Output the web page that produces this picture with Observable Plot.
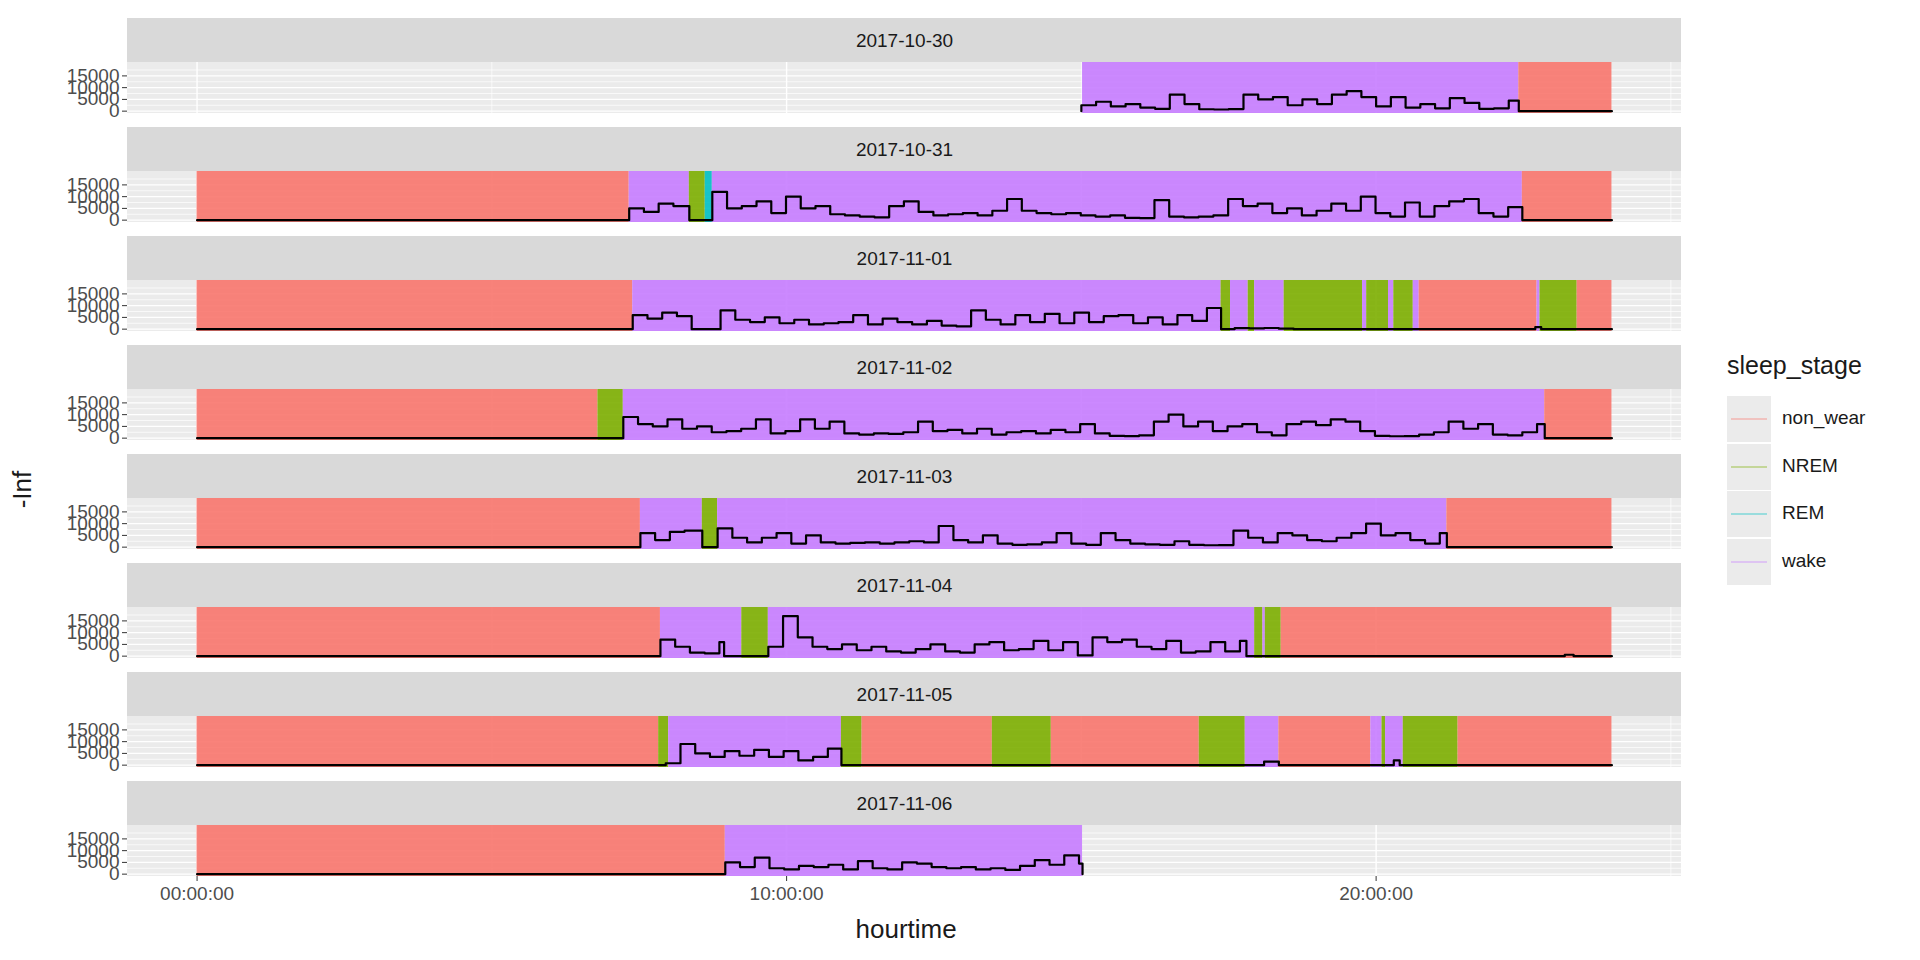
<!DOCTYPE html>
<html><head><meta charset="utf-8">
<script src="https://cdn.jsdelivr.net/npm/d3@7"></script>
<script src="https://cdn.jsdelivr.net/npm/@observablehq/plot@0.6"></script>
<style>
body{margin:0;background:#fff;font-family:"Liberation Sans",Arial,sans-serif;}
#wrap{position:relative;width:1920px;height:960px;}
.lab{position:absolute;color:#1A1A1A;white-space:nowrap;}
</style></head><body><div id="wrap"></div>
<script>
const days = ["2017-10-30","2017-10-31","2017-11-01","2017-11-02","2017-11-03","2017-11-04","2017-11-05","2017-11-06"];
const stageNames = ["non_wear","NREM","REM","wake"];
const stageColors = ["#F8766D","#7CAE00","#00BFC4","#C77CFF"];
const xTicks = [0,10,20];
const xTickLabels = ["00:00:00","10:00:00","20:00:00"];
const yTicks = [0,5000,10000,15000];

// stage intervals per day: [start hour, end hour, stage]
const stages1030 = [[15.02,22.42,"wake"],[22.42,24,"non_wear"]];
const stages1031 = [[0,7.33,"non_wear"],[7.33,8.35,"wake"],[8.35,8.62,"NREM"],[8.62,8.74,"REM"],[8.74,22.48,"wake"],[22.48,24,"non_wear"]];
const stages1101 = [[0,7.39,"non_wear"],[7.39,17.37,"wake"],[17.37,17.53,"NREM"],[17.53,17.83,"wake"],[17.83,17.94,"NREM"],[17.94,18.44,"wake"],[18.44,19.77,"NREM"],[19.77,19.84,"wake"],[19.84,20.21,"NREM"],[20.21,20.3,"wake"],[20.3,20.63,"NREM"],[20.63,20.73,"wake"],[20.73,22.73,"non_wear"],[22.73,22.78,"wake"],[22.78,23.41,"NREM"],[23.41,24,"non_wear"]];
const stages1102 = [[0,6.8,"non_wear"],[6.8,7.23,"NREM"],[7.23,22.86,"wake"],[22.86,24,"non_wear"]];
const stages1103 = [[0,7.52,"non_wear"],[7.52,8.57,"wake"],[8.57,8.83,"NREM"],[8.83,21.2,"wake"],[21.2,24,"non_wear"]];
const stages1104 = [[0,7.86,"non_wear"],[7.86,9.24,"wake"],[9.24,9.69,"NREM"],[9.69,17.94,"wake"],[17.94,18.08,"NREM"],[18.08,18.12,"wake"],[18.12,18.39,"NREM"],[18.39,24,"non_wear"]];
const stages1105 = [[0,7.83,"non_wear"],[7.83,8.0,"NREM"],[8.0,10.93,"wake"],[10.93,11.28,"NREM"],[11.28,13.49,"non_wear"],[13.49,14.49,"NREM"],[14.49,17.0,"non_wear"],[17.0,17.78,"NREM"],[17.78,18.35,"wake"],[18.35,19.91,"non_wear"],[19.91,20.1,"wake"],[20.1,20.16,"NREM"],[20.16,20.46,"wake"],[20.46,21.39,"NREM"],[21.39,24,"non_wear"]];
const stages1106 = [[0,8.96,"non_wear"],[8.96,15.02,"wake"]];

// activity line: line extent per day, and active segments [start, end, values every 15 min]
const lineSpan = [[15.0,24],[0,24],[0,24],[0,24],[0,24],[0,24],[0,24],[0,15.02]];
const act1030 = [[15.0,22.42,[2500,4000,2000,3000,1500,1000,7000,3000,800,700,900,7000,5000,6000,2500,5000,3000,7000,8500,6000,2000,6000,1500,3000,1200,5500,3500,1000,1200,4500]]];
const act1031 = [[7.33,8.35,[5000,3500,7000,6000]],
 [8.74,22.48,[12000,5000,6000,8000,3000,10000,5000,6000,2500,2000,1500,1200,6000,8000,3500,2000,2500,3000,2000,4000,9000,4000,3000,2500,3000,2000,1500,2000,1000,900,8500,1500,1200,1500,2000,9000,6000,7000,3000,5000,2000,4000,7000,4000,10000,3000,1500,7500,1500,6000,8000,9000,3000,1500,5500]]];
const act1101 = [[7.39,8.39,[6000,4500,7000,5500]],
 [8.88,17.37,[8000,4000,3000,5000,2500,4000,2000,2500,3000,6000,2000,4500,3000,2000,3500,1500,1200,8000,4000,2000,6000,3000,6500,2500,7000,3000,5500,6000,2500,5000,2000,6000,3500,9000]],
 [17.6,18.6,[400,300,500,200]],[22.7,22.8,[900]]];
const act1102 = [[7.23,22.86,[9000,6000,5000,8000,4000,5000,2500,3000,4000,8000,2000,3000,8000,4000,7000,2000,1500,2000,1800,2500,7000,3000,3500,2000,4000,1500,2500,3000,2000,3500,2500,6000,2000,1000,900,1200,7000,10000,5000,7000,3000,5000,6000,2500,1200,6000,7000,5500,8000,7000,3000,1000,800,900,1500,2500,7000,4000,6000,1500,1200,2500,6000]]];
const act1103 = [[7.52,8.57,[6000,3000,6500,7000]],
 [8.83,21.2,[8000,4000,2000,4000,6000,1500,5000,2000,1500,1800,2000,1500,2000,2500,2000,9000,3000,2000,5000,1500,1000,1200,2000,6000,1500,1000,6000,3000,1500,1200,1000,2500,1000,800,900,7000,4000,2000,6000,5000,3000,2500,4000,6000,10000,5000,6000,3000,1500,6000]]];
const act1104 = [[7.86,8.94,[7000,4000,1500,1200,6000]],
 [9.69,17.8,[4000,17000,8000,4000,3000,5000,2500,4000,2000,1500,3000,5000,2000,1500,5000,6000,2500,3000,6500,2500,6000,300,8000,6000,7000,4000,3000,6500,1500,2000,6000,2000,6500]],
 [23.2,23.35,[600]]];
const act1105 = [[7.95,10.93,[800,9000,5000,3500,6000,4000,6500,3500,6000,2000,3500,7000]],
 [18.1,18.35,[1500]],[20.3,20.4,[2000]]];
const act1106 = [[8.96,15.02,[5000,3000,7000,2500,2000,3500,3000,4000,2000,5500,2500,2000,5000,4500,3000,2500,3000,2000,2500,1800,3500,6000,4000,8000,4500]]];

const allStages = [stages1030,stages1031,stages1101,stages1102,stages1103,stages1104,stages1105,stages1106];
const allAct = [act1030,act1031,act1101,act1102,act1103,act1104,act1105,act1106];

const Y0 = -1000, Y1 = 20700, YS = 39420;
const X0 = -1.18, X1 = 25.18;

const rects = [];
allStages.forEach((arr,i)=>arr.forEach(([s,e,st])=>rects.push({day:days[i],s,e,stage:st})));
const pts = [];
allAct.forEach((segs,i)=>{
  const d = days[i];
  pts.push({day:d,t:lineSpan[i][0],v:0});
  segs.forEach(([s,e,vals])=>{
    vals.forEach((v,k)=>pts.push({day:d,t:s+k*0.25,v}));
    pts.push({day:d,t:e,v:0});
  });
  pts.push({day:d,t:lineSpan[i][1],v:0});
});
const dayRows = days.map(d=>({day:d}));
const xfmt = d=>xTickLabels[xTicks.indexOf(d)];

const plot = Plot.plot({
  width:1920, height:960,
  marginTop:15, marginBottom:80, marginLeft:127, marginRight:239,
  x:{domain:[X0,X1], ticks:xTicks, tickFormat:xfmt, tickSize:5, label:null},
  y:{domain:[Y0,YS], ticks:yTicks, tickFormat:d3.format("d"), tickSize:5, label:null},
  fy:{domain:days, padding:0.128, axis:null},
  color:{domain:stageNames, range:stageColors},
  style:{fontFamily:"Liberation Sans, Arial, sans-serif", fontSize:"19px", color:"#4D4D4D"},
  marks:[
    Plot.rect(dayRows,{fy:"day",x1:X0,x2:X1,y1:Y0,y2:Y1,fill:"#EBEBEB"}),
    Plot.rect(dayRows,{fy:"day",x1:X0,x2:X1,y1:Y1,y2:YS,fill:"#D9D9D9"}),
    Plot.ruleY([2500,7500,12500,17500],{x1:X0,x2:X1,stroke:"#fff",strokeWidth:0.7}),
    Plot.ruleY(yTicks,{x1:X0,x2:X1,stroke:"#fff",strokeWidth:1.4}),
    Plot.ruleX([5,15,25],{y1:Y0,y2:Y1,stroke:"#fff",strokeWidth:0.7}),
    Plot.ruleX(xTicks,{y1:Y0,y2:Y1,stroke:"#fff",strokeWidth:1.4}),
    Plot.rect(rects,{fy:"day",x1:"s",x2:"e",y1:Y0,y2:Y1,fill:"stage",fillOpacity:0.9}),
    Plot.line(pts,{fy:"day",x:"t",y:"v",curve:"step-after",stroke:"#000",strokeWidth:2.2}),
    Plot.text(dayRows,{fy:"day",x:(X0+X1)/2,y:(Y1+YS)/2,text:"day",fill:"#1A1A1A",fontSize:19}),
    Plot.axisY({ticks:yTicks,tickFormat:d3.format("d"),tickSize:5,fontSize:19,fill:"#4D4D4D",stroke:"#333",label:null,tickPadding:3}),
    Plot.axisX({ticks:xTicks,tickFormat:xfmt,tickSize:5,fontSize:19,fill:"#4D4D4D",stroke:"#333",label:null,tickPadding:5})
  ]
});
const wrap = document.getElementById("wrap");
wrap.appendChild(plot);
function lab(txt,x,y,size,extra){const e=document.createElement("div");e.className="lab";e.textContent=txt;e.style.left=x+"px";e.style.top=y+"px";e.style.fontSize=size+"px";if(extra)Object.assign(e.style,extra);wrap.appendChild(e);return e;}
const ht = lab("hourtime",0,914,26);
ht.style.left = (906 - ht.offsetWidth/2) + "px";
lab("-Inf",4,474,26,{transform:"rotate(-90deg)",transformOrigin:"center"});
lab("sleep_stage",1727,351,25);
stageNames.forEach((s,i)=>{
  const y=396+i*47.5;
  const b=document.createElement("div");
  Object.assign(b.style,{position:"absolute",left:"1727px",top:y+"px",width:"44px",height:"46px",background:"#EBEBEB"});
  const l=document.createElement("div");
  Object.assign(l.style,{position:"absolute",left:"4px",right:"4px",top:"22px",height:"2px",background:stageColors[i],opacity:0.35});
  b.appendChild(l);wrap.appendChild(b);
  lab(s,1782,y+11,19,{color:"#1A1A1A"});
});
</script></body></html>
